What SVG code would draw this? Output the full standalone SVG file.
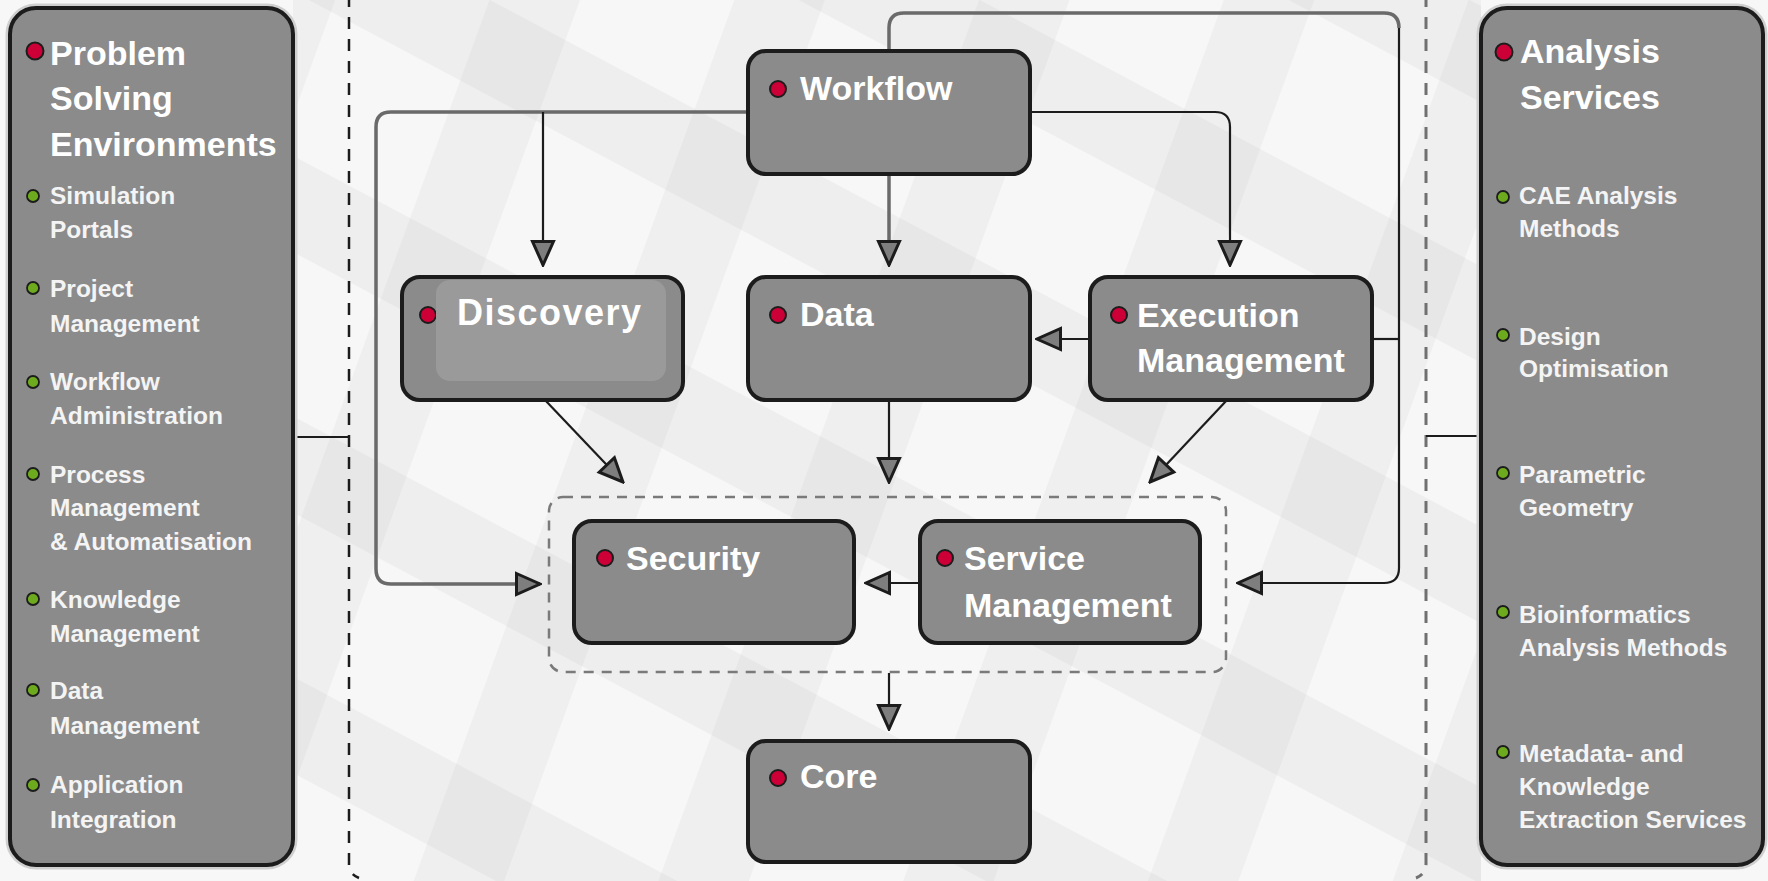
<svg xmlns="http://www.w3.org/2000/svg" width="1768" height="881" viewBox="0 0 1768 881">
<style>
.panel{fill:#8b8b8b;stroke:#1c1c1c;stroke-width:4}
.halo{fill:none;stroke:#cfcfcf;stroke-width:9}
.node{fill:#8b8b8b;stroke:#1c1c1c;stroke-width:4}
.title{font-family:"Liberation Sans",Arial,sans-serif;font-weight:bold;font-size:34px;fill:#ffffff}
.item{font-family:"Liberation Sans",Arial,sans-serif;font-weight:bold;font-size:24.5px;fill:#f4f4f4}
.red{fill:#cc0036;stroke:#1c1c1c;stroke-width:2}
.green{fill:#6eaa1e;stroke:#1c1c1c;stroke-width:1.8}
.cg{fill:none;stroke:#6a6a6a;stroke-width:3.5}
.ck{fill:none;stroke:#1c1c1c;stroke-width:2.2}
</style>
<defs>
<marker id="arr" viewBox="0 0 28 26" refX="26" refY="13" markerWidth="28" markerHeight="26" markerUnits="userSpaceOnUse" orient="auto">
<path d="M2.5,2.5 L26,13 L2.5,23.5 Z" fill="#7e7e7e" stroke="#1c1c1c" stroke-width="3" stroke-linejoin="miter"/>
</marker>
<pattern id="bandA" width="230" height="230" patternUnits="userSpaceOnUse" patternTransform="rotate(28)">
<rect width="230" height="85" fill="#000" opacity="0.035"/>
</pattern>
<pattern id="bandB" width="230" height="230" patternUnits="userSpaceOnUse" patternTransform="rotate(-70)">
<rect width="230" height="85" fill="#000" opacity="0.03"/>
</pattern>
</defs>
<rect width="1768" height="881" fill="#f7f7f7"/>
<rect x="293" y="0" width="1188" height="881" fill="url(#bandA)"/>
<rect x="293" y="0" width="1188" height="881" fill="url(#bandB)"/>

<g id="outer-boundary" fill="none">
<path d="M349,-5 V864 Q349,874 359,878" stroke="#1c1c1c" stroke-width="2.5" stroke-dasharray="12,10"/>
<path d="M1426,-5 V864 Q1426,874 1416,878" stroke="#707070" stroke-width="3" stroke-dasharray="12,10"/>
</g>

<g id="core-services-group">
<rect x="549" y="497" width="677" height="175" rx="14" fill="none" stroke="#7a7a7a" stroke-width="2.5" stroke-dasharray="10,8"/>
</g>

<g id="connectors">
<path class="ck" d="M293,437 H349"/>
<path class="ck" d="M1426,436 H1481"/>
<path class="cg" d="M748,112 H391 Q376,112 376,127 V569 Q376,584 391,584 H540" marker-end="url(#arr)"/>
<path class="ck" d="M543,112 V265" marker-end="url(#arr)"/>
<path class="cg" d="M889,174 V265" marker-end="url(#arr)"/>
<path class="ck" d="M1030,112 H1215 Q1230,112 1230,127 V265" marker-end="url(#arr)"/>
<path class="cg" d="M889,51 V28 Q889,13 904,13 H1384 Q1399,13 1399,28"/>
<path class="ck" d="M1399,28 V568 Q1399,583 1384,583 H1238" marker-end="url(#arr)"/>
<path class="ck" d="M1372,339 H1399"/>
<path class="ck" d="M1090,339 H1037" marker-end="url(#arr)"/>
<path class="ck" d="M545,400 L623,482" marker-end="url(#arr)"/>
<path class="ck" d="M889,400 V482" marker-end="url(#arr)"/>
<path class="ck" d="M1227,400 L1150,482" marker-end="url(#arr)"/>
<path class="ck" d="M920,583 H866" marker-end="url(#arr)"/>
<path class="ck" d="M889,673 V729" marker-end="url(#arr)"/>
</g>

<g id="problem-solving-environments">
<rect class="halo" x="10" y="8" width="283" height="857" rx="26"/>
<rect class="panel" x="10" y="8" width="283" height="857" rx="26"/>
<circle class="red" cx="35" cy="51" r="8.5"/>
<text class="title" x="50" y="65">Problem</text>
<text class="title" x="50" y="110">Solving</text>
<text class="title" x="50" y="156">Environments</text>
<circle class="green" cx="33" cy="196" r="6"/>
<text class="item" x="50" y="204">Simulation</text>
<text class="item" x="50" y="238">Portals</text>
<circle class="green" cx="33" cy="288" r="6"/>
<text class="item" x="50" y="297">Project</text>
<text class="item" x="50" y="332">Management</text>
<circle class="green" cx="33" cy="382" r="6"/>
<text class="item" x="50" y="390">Workflow</text>
<text class="item" x="50" y="424">Administration</text>
<circle class="green" cx="33" cy="474" r="6"/>
<text class="item" x="50" y="483">Process</text>
<text class="item" x="50" y="516">Management</text>
<text class="item" x="50" y="550">&amp; Automatisation</text>
<circle class="green" cx="33" cy="599" r="6"/>
<text class="item" x="50" y="608">Knowledge</text>
<text class="item" x="50" y="642">Management</text>
<circle class="green" cx="33" cy="690" r="6"/>
<text class="item" x="50" y="699">Data</text>
<text class="item" x="50" y="734">Management</text>
<circle class="green" cx="33" cy="785" r="6"/>
<text class="item" x="50" y="793">Application</text>
<text class="item" x="50" y="828">Integration</text>
</g>

<g id="analysis-services">
<rect class="halo" x="1481" y="8" width="282" height="857" rx="26"/>
<rect class="panel" x="1481" y="8" width="282" height="857" rx="26"/>
<circle class="red" cx="1504" cy="52" r="8.5"/>
<text class="title" x="1520" y="63">Analysis</text>
<text class="title" x="1520" y="109">Services</text>
<circle class="green" cx="1503" cy="197" r="6"/>
<text class="item" x="1519" y="204">CAE Analysis</text>
<text class="item" x="1519" y="237">Methods</text>
<circle class="green" cx="1503" cy="335" r="6"/>
<text class="item" x="1519" y="345">Design</text>
<text class="item" x="1519" y="377">Optimisation</text>
<circle class="green" cx="1503" cy="473" r="6"/>
<text class="item" x="1519" y="483">Parametric</text>
<text class="item" x="1519" y="516">Geometry</text>
<circle class="green" cx="1503" cy="612" r="6"/>
<text class="item" x="1519" y="623">Bioinformatics</text>
<text class="item" x="1519" y="656">Analysis Methods</text>
<circle class="green" cx="1503" cy="752" r="6"/>
<text class="item" x="1519" y="762">Metadata- and</text>
<text class="item" x="1519" y="795">Knowledge</text>
<text class="item" x="1519" y="828">Extraction Services</text>
</g>

<g id="workflow">
<rect class="node" x="748" y="51" width="282" height="123" rx="18"/>
<circle class="red" cx="778" cy="89" r="8"/>
<text class="title" x="800" y="100">Workflow</text>
</g>

<g id="discovery">
<rect class="node" x="402" y="277" width="281" height="123" rx="18"/>
<circle class="red" cx="428" cy="315" r="8"/>
<rect x="436" y="280" width="230" height="101" rx="14" fill="#9a9a9a"/>
<text x="457" y="325" font-family="Liberation Sans, Arial, sans-serif" font-weight="bold" font-size="36" letter-spacing="1.5" fill="#ffffff">Discovery</text>
</g>

<g id="data">
<rect class="node" x="748" y="277" width="282" height="123" rx="18"/>
<circle class="red" cx="778" cy="315" r="8"/>
<text class="title" x="800" y="326">Data</text>
</g>

<g id="execution-management">
<rect class="node" x="1090" y="277" width="282" height="123" rx="18"/>
<circle class="red" cx="1119" cy="315" r="8"/>
<text class="title" x="1137" y="327">Execution</text>
<text class="title" x="1137" y="372">Management</text>
</g>

<g id="security">
<rect class="node" x="574" y="521" width="280" height="122" rx="18"/>
<circle class="red" cx="605" cy="558" r="8"/>
<text class="title" x="626" y="570">Security</text>
</g>

<g id="service-management">
<rect class="node" x="920" y="521" width="280" height="122" rx="18"/>
<circle class="red" cx="945" cy="558" r="8"/>
<text class="title" x="964" y="570">Service</text>
<text class="title" x="964" y="617">Management</text>
</g>

<g id="core">
<rect class="node" x="748" y="741" width="282" height="121" rx="18"/>
<circle class="red" cx="778" cy="778" r="8"/>
<text class="title" x="800" y="788">Core</text>
</g>
</svg>
